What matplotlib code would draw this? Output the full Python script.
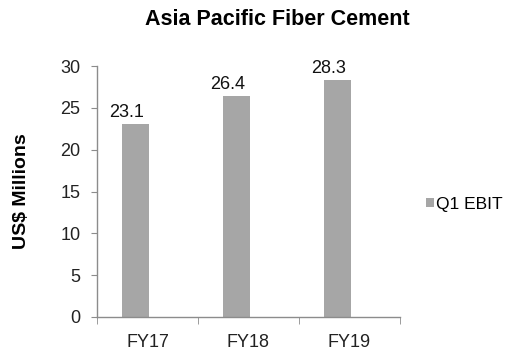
import matplotlib
matplotlib.use("Agg")
import matplotlib.pyplot as plt
import numpy as np

plt.rcParams['font.family'] = ['Liberation Sans', 'DejaVu Sans']

categories = ["FY17", "FY18", "FY19"]
q1_ebit = [23.1, 26.4, 28.3]
series_name = "Q1 EBIT"
title = "Asia Pacific Fiber Cement"
y_label = "US$ Millions"
y_ticks = [0, 5, 10, 15, 20, 25, 30]

bar_color = "#a6a6a6"
axis_color = "#8c8c8c"

fig = plt.figure(figsize=(5.09, 3.53), dpi=100)
ax = fig.add_axes([0.1906, 0.102, 0.595, 0.711])

x = np.arange(len(categories))
bar_shift = -0.12
bars = ax.bar(x + bar_shift, q1_ebit, width=0.27, color=bar_color, label=series_name, zorder=2)

for xi, v in zip(x, q1_ebit):
    ax.annotate(f"{v:.1f}", (xi + bar_shift - 0.09, v), xytext=(0, 2),
                textcoords="offset points", ha="center", va="bottom",
                fontsize=13, color="#111111")

ax.set_xlim(-0.5, len(categories) - 0.5)
ax.set_ylim(0, 30)
ax.set_yticks(y_ticks)
ax.set_yticklabels([str(t) for t in y_ticks], fontsize=13, color="#222222")
ax.set_xticks(x)
ax.set_xticklabels(categories, fontsize=13, color="#222222")
ax.set_xticks(np.arange(-0.5, len(categories)), minor=True)
ax.tick_params(axis="x", which="major", length=0, pad=12)
ax.tick_params(axis="x", which="minor", length=5, color=axis_color, direction="out")
ax.tick_params(axis="y", length=4, color=axis_color, direction="out", pad=8)

for side in ("top", "right"):
    ax.spines[side].set_visible(False)
for side in ("left", "bottom"):
    ax.spines[side].set_color(axis_color)
    ax.spines[side].set_linewidth(1.0)

ax.set_ylabel(y_label, fontsize=14, fontweight="bold", labelpad=22)
fig.suptitle(title, x=0.545, y=0.975, fontsize=15.5, fontweight="bold")

leg = fig.legend(handles=[bars], labels=[series_name], loc="center left",
                 bbox_to_anchor=(0.81, 0.422), frameon=False, fontsize=12.5,
                 handlelength=0.45, handleheight=0.45, handletextpad=0.12,
                 borderpad=0.3)

fig.savefig("out.png", dpi=100)
